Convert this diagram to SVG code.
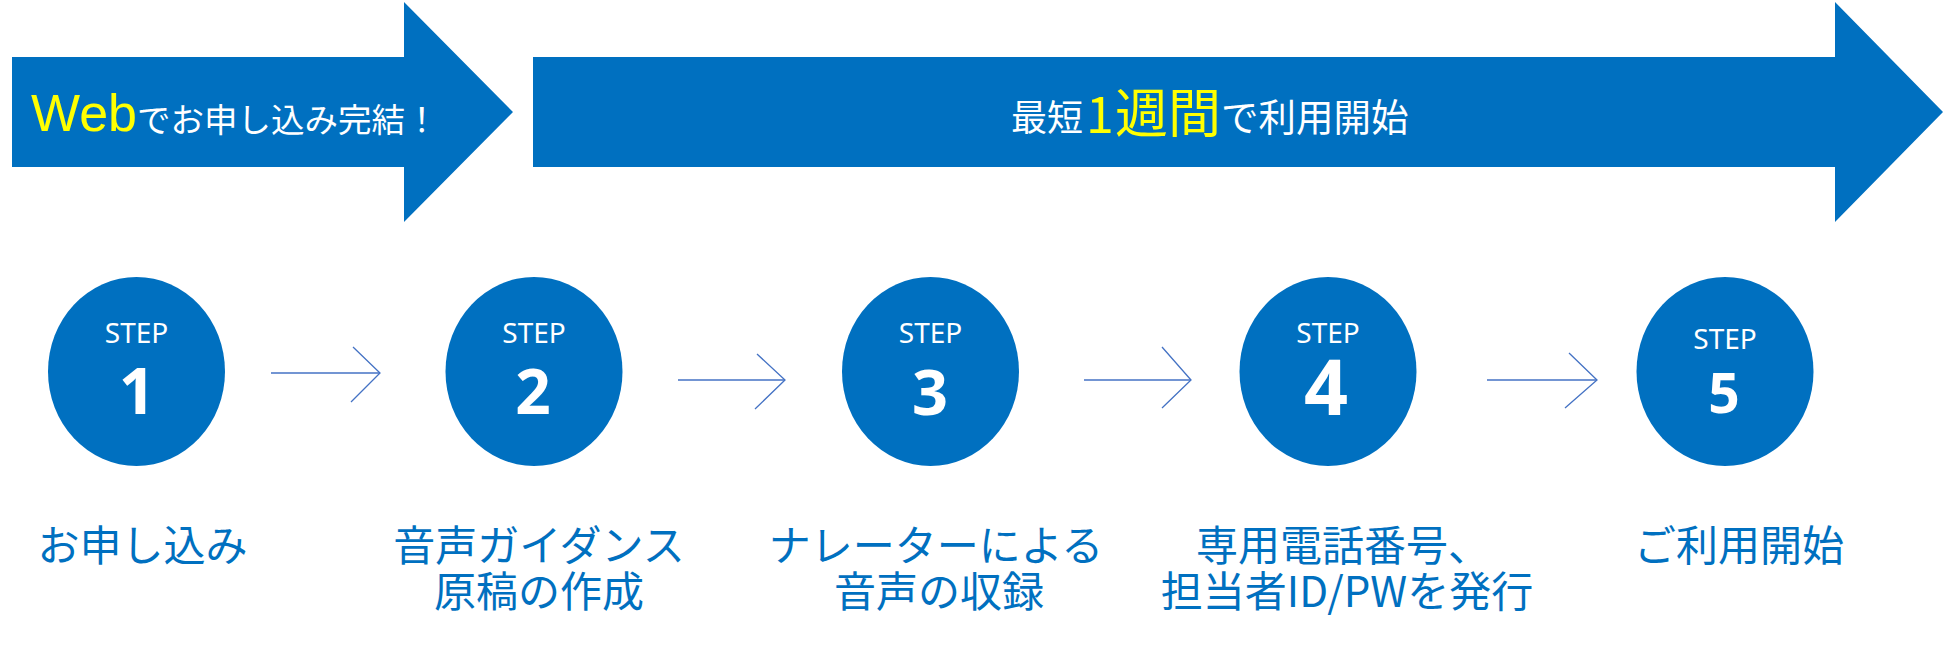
<svg xmlns="http://www.w3.org/2000/svg" width="1943" height="645" viewBox="0 0 1943 645">
<style>
.big{fill:#0070C0;}
.circ{fill:#0070C0;}
.step{font-family:"Noto Sans","Open Sans",sans-serif;font-size:28px;fill:#ffffff;text-anchor:middle;}
.num{font-family:"Noto Sans","Open Sans",sans-serif;font-weight:bold;fill:#ffffff;text-anchor:middle;}
.lbl{font-family:"Noto Sans CJK JP","Noto Sans",sans-serif;font-size:42px;fill:#0070C0;text-anchor:middle;}
.wt{font-family:"Noto Sans CJK JP","Noto Sans",sans-serif;fill:#ffffff;}
.yl{font-family:"Noto Sans CJK JP","Noto Sans",sans-serif;fill:#FFFF00;}
.con{fill:none;stroke:#4472C4;stroke-width:1.3;}
</style>
<g id="banner-web">
<polygon class="big" points="12,57 404,57 404,2 513,112 404,222 404,167 12,167"/>
<text x="31" y="131" font-family="Liberation Sans, Arial, sans-serif" font-size="52" fill="#FFFF00">Web</text>
<text class="wt" x="137" y="132" font-size="33.5">でお申し込み完結！</text>
</g>
<g id="banner-week">
<polygon class="big" points="533,57 1835,57 1835,2 1943,112 1835,222 1835,167 533,167"/>
<text class="wt" x="1011" y="131" font-size="36">最短</text>
<text class="yl" x="1086" y="133" font-size="50">1</text>
<text class="yl" x="1115" y="133" font-size="53">週間</text>
<text class="wt" x="1221" y="131" font-size="37.5">で利用開始</text>
</g>
<g id="step1">
<ellipse class="circ" cx="136.5" cy="371.5" rx="88.5" ry="94.5"/>
<text class="step" x="136.5" y="343">STEP</text>
<text class="num" x="137" y="414" font-size="64">1</text>
<text class="lbl" x="142.5" y="561">お申し込み</text>
</g>
<g id="step2">
<ellipse class="circ" cx="534" cy="371.5" rx="88.5" ry="94.5"/>
<text class="step" x="534" y="343">STEP</text>
<text class="num" x="533" y="414" font-size="62">2</text>
<text class="lbl" x="539" y="561">音声ガイダンス</text>
<text class="lbl" x="539" y="607">原稿の作成</text>
</g>
<g id="step3">
<ellipse class="circ" cx="930.5" cy="371.5" rx="88.5" ry="94.5"/>
<text class="step" x="930.5" y="343">STEP</text>
<text class="num" x="930" y="415" font-size="63">3</text>
<text class="lbl" x="936" y="561">ナレーターによる</text>
<text class="lbl" x="939" y="607">音声の収録</text>
</g>
<g id="step4">
<ellipse class="circ" cx="1328" cy="371.5" rx="88.5" ry="94.5"/>
<text class="step" x="1328" y="343">STEP</text>
<text class="num" x="1326" y="415" font-size="77">4</text>
<text class="lbl" x="1343" y="561">専用電話番号、</text>
<text class="lbl" x="1347" y="607">担当者ID/PWを発行</text>
</g>
<g id="step5">
<ellipse class="circ" cx="1725" cy="371.5" rx="88.5" ry="94.5"/>
<text class="step" x="1725" y="349">STEP</text>
<text class="num" x="1724" y="413" font-size="55">5</text>
<text class="lbl" x="1739" y="561">ご利用開始</text>
</g>
<g id="connectors">
<line class="con" x1="271" y1="373" x2="380" y2="373"/>
<polyline class="con" points="353,347 380,373 351,402"/>
<line class="con" x1="678" y1="380" x2="785" y2="380"/>
<polyline class="con" points="757,354 785,380 755,409"/>
<line class="con" x1="1084" y1="380" x2="1191" y2="380"/>
<polyline class="con" points="1162,347 1191,380 1162,408"/>
<line class="con" x1="1487" y1="380" x2="1597" y2="380"/>
<polyline class="con" points="1569,353 1597,380 1565,408"/>
</g>
</svg>
